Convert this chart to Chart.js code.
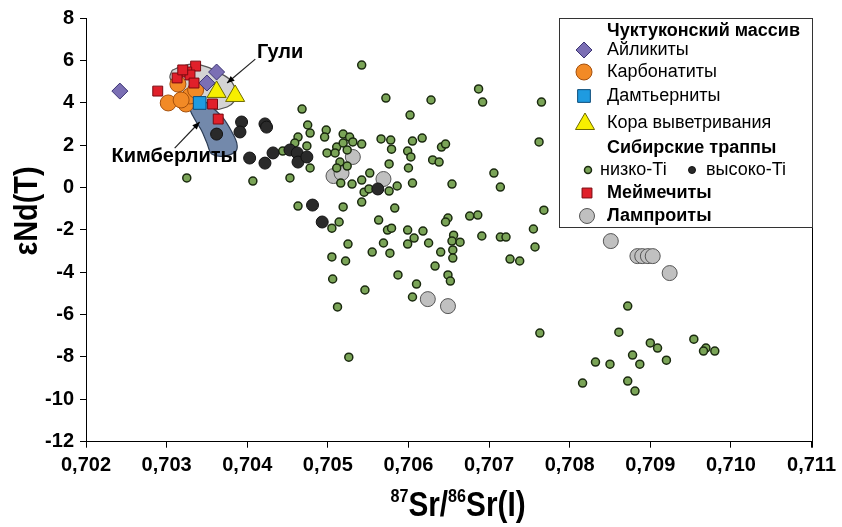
<!DOCTYPE html>
<html>
<head>
<meta charset="utf-8">
<script src="https://cdn.jsdelivr.net/npm/chart.js@4.4.1/dist/chart.umd.min.js"></script>
<style>
  html, body { margin: 0; padding: 0; background: #fff; }
</style>
</head>
<body>
<canvas id="srNdChart" width="842" height="527"></canvas>
<script>
// axis ticks
const xTicks = [0.702, 0.703, 0.704, 0.705, 0.706, 0.707, 0.708, 0.709, 0.710, 0.711];
const yTicks = [-12, -10, -8, -6, -4, -2, 0, 2, 4, 6, 8];

// Чуктуконский массив
const ailikites = [[0.70242, 4.55], [0.70362, 5.45], [0.70350, 4.93]];
const carbonatites = [[0.70302, 3.99], [0.70314, 4.88], [0.70324, 3.94], [0.70329, 4.32], [0.70336, 4.60], [0.70318, 4.13]];
const damtjernites = [[0.70341, 3.99]];
const weatheringCrust = [[0.70362, 4.51], [0.70385, 4.32]];

// Сибирские траппы
const lowTi = [
  [0.70468, 3.70], [0.70475, 2.95], [0.70478, 2.57], [0.70463, 2.38], [0.70498, 2.71], [0.70496, 2.38],
  [0.70519, 2.52], [0.70527, 2.38], [0.70531, 2.15], [0.70542, 2.05], [0.70511, 1.91], [0.70519, 2.10],
  [0.70524, 1.77], [0.70499, 1.63], [0.70509, 1.63], [0.70515, 1.20], [0.70524, 1.01], [0.70511, 0.92],
  [0.70478, 0.92], [0.70444, 1.72], [0.70459, 2.10], [0.70474, 1.96], [0.70325, 0.45], [0.70407, 0.30],
  [0.70453, 0.45], [0.70552, 0.68], [0.70542, 0.35], [0.70530, 0.16], [0.70516, 0.21], [0.70545, -0.22],
  [0.70551, -0.07], [0.70542, -0.69], [0.70519, -0.92], [0.70463, -0.88], [0.70505, -1.92], [0.70514, -1.63],
  [0.70525, -2.67], [0.70542, 5.78], [0.70572, 4.22], [0.70628, 4.13], [0.70687, 4.65], [0.70692, 4.03],
  [0.70765, 4.03], [0.70602, 3.42], [0.70762, 2.15], [0.70566, 2.29], [0.70578, 2.24], [0.70579, 1.81],
  [0.70605, 2.19], [0.70617, 2.33], [0.70599, 1.72], [0.70603, 1.44], [0.70641, 1.91], [0.70646, 2.05],
  [0.70630, 1.30], [0.70638, 1.20], [0.70576, 1.11], [0.70600, 0.92], [0.70605, 0.21], [0.70654, 0.16],
  [0.70706, 0.68], [0.70714, 0.02], [0.70586, 0.07], [0.70576, -0.17], [0.70583, -0.97], [0.70563, -1.54],
  [0.70574, -2.01], [0.70579, -1.92], [0.70599, -2.01], [0.70618, -2.06], [0.70607, -2.39], [0.70599, -2.67],
  [0.70625, -2.62], [0.70649, -1.44], [0.70646, -1.63], [0.70676, -1.35], [0.70686, -1.30], [0.70768, -1.07],
  [0.70656, -2.25], [0.70654, -2.53], [0.70664, -2.58], [0.70691, -2.29], [0.70714, -2.34], [0.70721, -2.34],
  [0.70755, -1.96], [0.70757, -2.81], [0.70569, -2.62], [0.70555, -3.05], [0.70577, -3.10], [0.70640, -3.05],
  [0.70655, -2.95], [0.70655, -3.33], [0.70505, -3.28], [0.70522, -3.47], [0.70726, -3.38], [0.70738, -3.47],
  [0.70633, -3.71], [0.70506, -4.32], [0.70587, -4.13], [0.70649, -4.13], [0.70652, -4.42], [0.70610, -4.56],
  [0.70546, -4.84], [0.70605, -5.17], [0.70512, -5.64], [0.70526, -8.01], [0.70872, -5.60], [0.70763, -6.87],
  [0.70861, -6.83], [0.70900, -7.34], [0.70909, -7.58], [0.70878, -7.91], [0.70887, -8.34], [0.70832, -8.24],
  [0.70850, -8.34], [0.70920, -8.15], [0.70954, -7.16], [0.70969, -7.58], [0.70966, -7.72], [0.70980, -7.72],
  [0.70816, -9.23], [0.70872, -9.14], [0.70881, -9.61]
];
const highTi = [
  [0.70393, 3.09], [0.70391, 2.62], [0.70362, 2.52], [0.70422, 3.00], [0.70424, 2.85], [0.70403, 1.39],
  [0.70422, 1.15], [0.70432, 1.63], [0.70453, 1.77], [0.70462, 1.63], [0.70463, 1.20], [0.70474, 1.44],
  [0.70481, -0.83], [0.70493, -1.63], [0.70562, -0.07]
];

const meimechites = [
  [0.70336, 5.73], [0.70325, 5.45], [0.70313, 5.17], [0.70329, 5.31], [0.70334, 4.93],
  [0.70289, 4.55], [0.70357, 3.94], [0.70364, 3.23], [0.70320, 5.55]
];
const lamproites = [
  [0.70507, 0.54], [0.70517, 0.68], [0.70531, 1.44], [0.70569, 0.40], [0.70624, -5.27], [0.70649, -5.60],
  [0.70851, -2.53], [0.70884, -3.24], [0.70890, -3.24], [0.70897, -3.24], [0.70903, -3.24], [0.70924, -4.04]
];

// outlined fields
const guliField = [
  [0.70307, 5.54], [0.70317, 5.69], [0.70333, 5.83], [0.70350, 5.69], [0.70366, 5.40], [0.70379, 5.07],
  [0.70386, 4.51], [0.70383, 4.03], [0.70375, 3.80], [0.70357, 3.66], [0.70341, 3.80], [0.70329, 4.13],
  [0.70317, 4.51], [0.70308, 4.93], [0.70304, 5.21], [0.70307, 5.54]
];
const kimberliteField = [
  [0.70335, 4.03], [0.70344, 4.13], [0.70356, 3.80], [0.70370, 3.28], [0.70381, 2.62], [0.70387, 2.10],
  [0.70386, 1.72], [0.70371, 1.48], [0.70356, 1.58], [0.70350, 2.10], [0.70343, 2.71], [0.70334, 3.28],
  [0.70329, 3.75], [0.70335, 4.03]
];

const FONT = "'Liberation Sans', Arial, sans-serif";
const toXY = arr => arr.map(([x, y]) => ({ x, y }));

function pointSet(label, data, style, radius, fill, border, borderWidth, order) {
  return {
    label, data: toXY(data), pointStyle: style, pointRadius: radius, pointHoverRadius: radius,
    backgroundColor: fill, borderColor: border, pointBorderWidth: borderWidth, borderWidth, order
  };
}
function fieldSet(label, data, fill, border, order) {
  return {
    type: 'line', label, data: toXY(data), fill: 'shape', backgroundColor: fill, borderColor: border,
    borderWidth: 1.2, pointRadius: 0, tension: 0.35, order
  };
}

function arrow(ctx, x1, y1, x2, y2) {
  ctx.beginPath();
  ctx.moveTo(x1, y1);
  ctx.lineTo(x2, y2);
  ctx.stroke();
  const a = Math.atan2(y2 - y1, x2 - x1);
  ctx.beginPath();
  ctx.moveTo(x2, y2);
  ctx.lineTo(x2 - 8 * Math.cos(a - 0.4), y2 - 8 * Math.sin(a - 0.4));
  ctx.lineTo(x2 - 8 * Math.cos(a + 0.4), y2 - 8 * Math.sin(a + 0.4));
  ctx.closePath();
  ctx.fill();
}

// condensed look for the axis titles: squeeze the text horizontally
const SQUEEZE = 0.85;

const annotations = {
  id: 'annotations',
  afterDatasetsDraw(chart) {
    const { ctx, chartArea, scales: { x, y } } = chart;
    ctx.save();
    // right frame line
    ctx.strokeStyle = '#000';
    ctx.lineWidth = 1;
    ctx.beginPath();
    ctx.moveTo(Math.round(chartArea.right) + 0.5, chartArea.top);
    ctx.lineTo(Math.round(chartArea.right) + 0.5, chartArea.bottom + 6);
    ctx.stroke();

    ctx.fillStyle = '#000';
    ctx.strokeStyle = '#222';
    ctx.lineWidth = 1.2;
    arrow(ctx, x.getPixelForValue(0.70410), y.getPixelForValue(6.06), x.getPixelForValue(0.70375), y.getPixelForValue(4.93));
    arrow(ctx, x.getPixelForValue(0.70310), y.getPixelForValue(1.86), x.getPixelForValue(0.70341), y.getPixelForValue(3.09));

    ctx.font = 'bold 20px ' + FONT;
    ctx.textBaseline = 'middle';
    ctx.textAlign = 'left';
    ctx.fillText('Гули', x.getPixelForValue(0.70412), y.getPixelForValue(6.39));
    ctx.textAlign = 'right';
    ctx.fillText('Кимберлиты', x.getPixelForValue(0.70388), y.getPixelForValue(1.44));
    ctx.restore();

    // x axis title with superscripts
    ctx.save();
    ctx.fillStyle = '#000';
    ctx.textBaseline = 'alphabetic';
    ctx.textAlign = 'left';
    const parts = [['87', 19, -14], ['Sr/', 35, 0], ['86', 19, -14], ['Sr(I)', 35, 0]];
    let w = 0;
    parts.forEach(([t, s]) => { ctx.font = 'bold ' + s + 'px ' + FONT; w += ctx.measureText(t).width; });
    ctx.translate(458 - w * SQUEEZE / 2, 516);
    ctx.scale(SQUEEZE, 1);
    let cx = 0;
    parts.forEach(([t, s, dy]) => {
      ctx.font = 'bold ' + s + 'px ' + FONT;
      ctx.fillText(t, cx, dy);
      cx += ctx.measureText(t).width;
    });
    ctx.restore();

    // y axis title
    ctx.save();
    ctx.fillStyle = '#000';
    ctx.translate(28, 211);
    ctx.rotate(-Math.PI / 2);
    ctx.scale(SQUEEZE, 1);
    ctx.font = 'bold 34px ' + FONT;
    ctx.textAlign = 'center';
    ctx.textBaseline = 'middle';
    ctx.fillText('εNd(T)', 0, 0);
    ctx.restore();
  }
};

const legendBox = {
  id: 'legendBox',
  afterDraw(chart) {
    const ctx = chart.ctx;
    const dp = Chart.helpers.drawPoint;
    ctx.save();
    ctx.fillStyle = '#fff';
    ctx.fillRect(559.5, 18.5, 253, 209);
    ctx.strokeStyle = '#333';
    ctx.lineWidth = 1;
    ctx.strokeRect(559.5, 18.5, 253, 209);

    const mark = (style, r, fill, border, bw, px, py) => {
      ctx.fillStyle = fill;
      ctx.strokeStyle = border;
      ctx.lineWidth = bw;
      dp(ctx, { pointStyle: style, radius: r, rotation: 0, borderWidth: bw }, px, py);
    };
    const text = (t, px, py, bold) => {
      ctx.fillStyle = '#000';
      ctx.font = (bold ? 'bold ' : '') + '18px ' + FONT;
      ctx.textAlign = 'left';
      ctx.textBaseline = 'middle';
      ctx.fillText(t, px, py);
    };

    text('Чуктуконский массив', 607, 31, true);
    mark('rectRot', 8, '#7b6fb4', '#3b3373', 1, 584, 50);
    text('Айликиты', 607, 50);
    mark('circle', 8, '#f28a26', '#a5500c', 1, 584, 72);
    text('Карбонатиты', 607, 72);
    mark('rect', 9, '#1f9be0', '#0b4c7a', 1, 584, 96);
    text('Дамтьерниты', 607, 96);
    mark('triangle', 11, '#f7ef00', '#6f6a00', 1, 585, 124);
    text('Кора выветривания', 607, 123);
    text('Сибирские траппы', 607, 148, true);
    mark('circle', 3.5, '#7aa457', '#1b2a10', 1.5, 588, 170);
    text('низко-Ti', 600, 170);
    mark('circle', 3.5, '#2a2a2a', '#111', 1, 692, 170);
    text('высоко-Ti', 706, 170);
    mark('rect', 7, '#e0202a', '#7a0a10', 1, 587, 193);
    text('Меймечиты', 607, 193, true);
    mark('circle', 7.5, '#c0c0c0', '#555', 1, 587, 216);
    text('Лампроиты', 607, 216, true);
    ctx.restore();
  }
};

const ctx = document.getElementById('srNdChart').getContext('2d');
const srNdChart = new Chart(ctx, {
  type: 'scatter',
  data: {
    datasets: [
      pointSet('Кора выветривания', weatheringCrust, 'triangle', 11, '#f7ef00', '#6f6a00', 1, 0),
      pointSet('Дамтьерниты', damtjernites, 'rect', 9, '#1f9be0', '#0b4c7a', 1, 1),
      pointSet('Меймечиты', meimechites, 'rect', 7, '#e0202a', '#7a0a10', 1, 2),
      pointSet('Айликиты', ailikites, 'rectRot', 8, '#7b6fb4', '#3b3373', 1, 3),
      pointSet('Карбонатиты', carbonatites, 'circle', 8, '#f28a26', '#a5500c', 1, 4),
      pointSet('высоко-Ti', highTi, 'circle', 6, '#2a2a2a', '#111', 1, 5),
      pointSet('низко-Ti', lowTi, 'circle', 4, '#7aa457', '#1b2a10', 1.5, 6),
      pointSet('Лампроиты', lamproites, 'circle', 7.5, '#c0c0c0', '#555', 1, 7),
      fieldSet('Кимберлиты', kimberliteField, '#7389ab', '#2d3d55', 8),
      fieldSet('Гули', guliField, '#d4d4d4', '#555', 9)
    ]
  },
  options: {
    responsive: false,
    animation: false,
    layout: { padding: { top: 18, right: 30, left: 0, bottom: 0 } },
    plugins: {
      legend: { display: false },
      tooltip: { enabled: false }
    },
    scales: {
      x: {
        type: 'linear',
        min: 0.702,
        max: 0.711,
        afterBuildTicks: s => { s.ticks = xTicks.map(v => ({ value: v })); },
        afterFit: s => { s.height = 85.3; },
        grid: { drawOnChartArea: false, tickLength: 6, color: '#000' },
        border: { color: '#000', width: 1 },
        ticks: {
          color: '#000', padding: 6, maxRotation: 0, autoSkip: false,
          font: { family: FONT, size: 20, weight: 'bold' },
          callback: v => v.toFixed(3).replace('.', ',')
        }
      },
      y: {
        min: -12,
        max: 8,
        afterBuildTicks: s => { s.ticks = yTicks.map(v => ({ value: v })); },
        afterFit: s => { s.width = 86; },
        grid: { drawOnChartArea: false, tickLength: 6, color: '#000' },
        border: { color: '#000', width: 1 },
        ticks: {
          color: '#000', padding: 6,
          font: { family: FONT, size: 20, weight: 'bold' }
        }
      }
    }
  },
  plugins: [annotations, legendBox]
});
</script>
</body>
</html>
